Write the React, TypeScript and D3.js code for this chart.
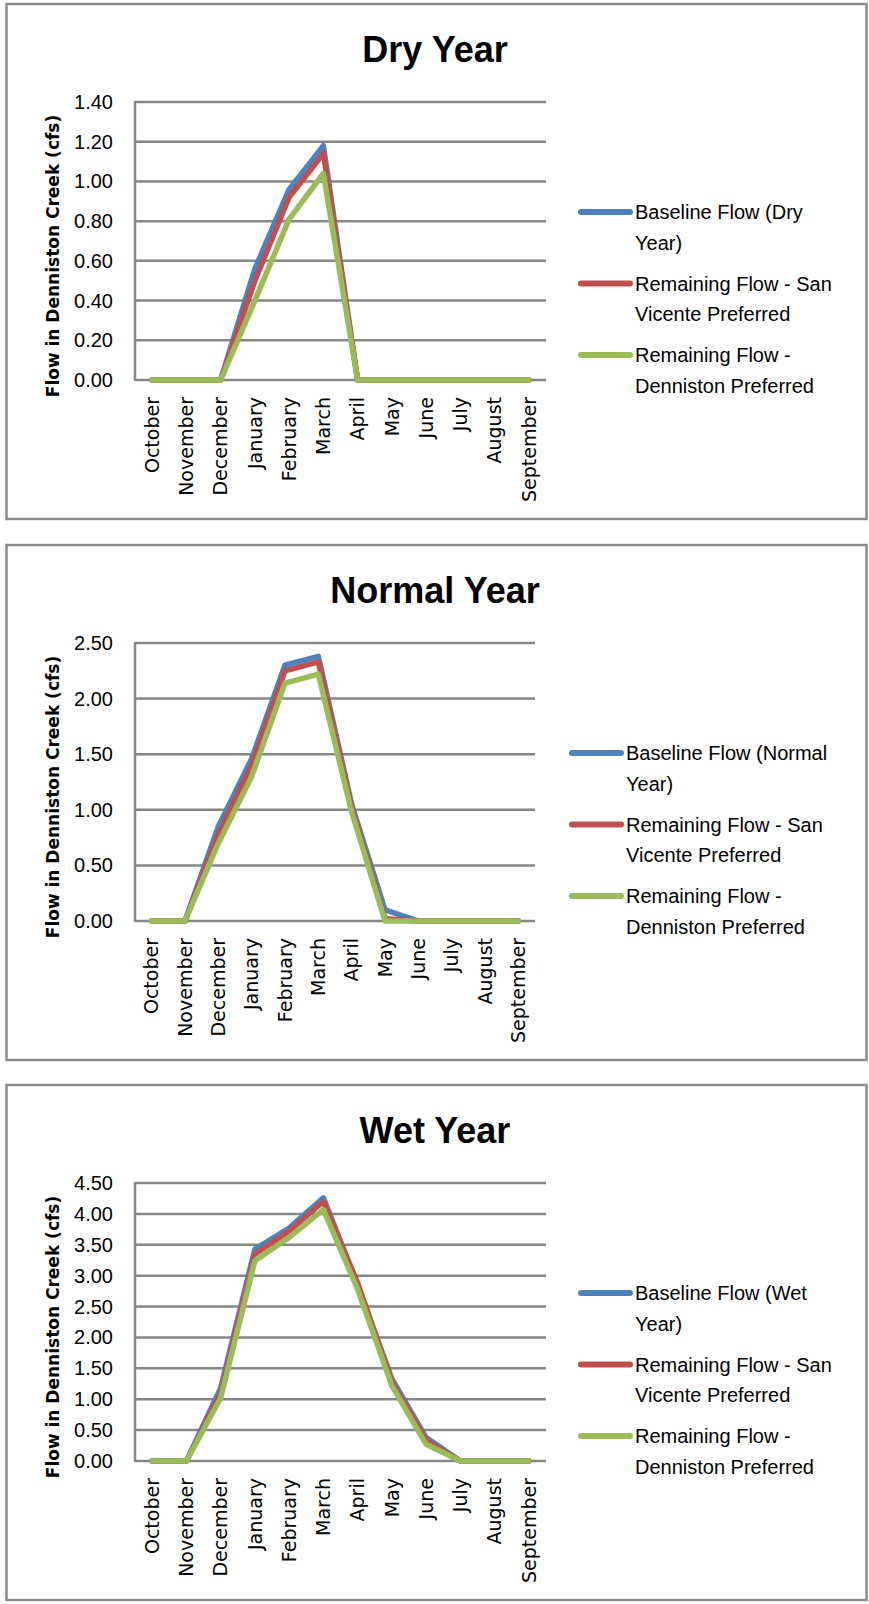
import * as d3 from "d3";

const months = [
  "October",
  "November",
  "December",
  "January",
  "February",
  "March",
  "April",
  "May",
  "June",
  "July",
  "August",
  "September",
];

// flow in cfs, one value per month
const dryBaseline = [0, 0, 0, 0.56, 0.96, 1.18, 0, 0, 0, 0, 0, 0];
const drySanVicente = [0, 0, 0, 0.5, 0.92, 1.14, 0, 0, 0, 0, 0, 0];
const dryDenniston = [0, 0, 0, 0.4, 0.81, 1.04, 0, 0, 0, 0, 0, 0];

const normalBaseline = [0, 0, 0.85, 1.46, 2.3, 2.38, 1.05, 0.1, 0, 0, 0, 0];
const normalSanVicente = [0, 0, 0.78, 1.4, 2.25, 2.33, 1.02, 0.02, 0, 0, 0, 0];
const normalDenniston = [0, 0, 0.7, 1.3, 2.14, 2.22, 0.98, 0, 0, 0, 0, 0];

const wetBaseline = [0, 0, 1.18, 3.43, 3.77, 4.26, 2.85, 1.33, 0.38, 0, 0, 0];
const wetSanVicente = [0, 0, 1.1, 3.35, 3.72, 4.2, 2.88, 1.28, 0.33, 0, 0, 0];
const wetDenniston = [0, 0, 1.02, 3.24, 3.62, 4.07, 2.78, 1.22, 0.27, 0, 0, 0];

const dryTicks = [0, 0.2, 0.4, 0.6, 0.8, 1.0, 1.2, 1.4];
const normalTicks = [0, 0.5, 1.0, 1.5, 2.0, 2.5];
const wetTicks = [0, 0.5, 1.0, 1.5, 2.0, 2.5, 3.0, 3.5, 4.0, 4.5];

const remainingSanVicente = ["Remaining Flow - San", "Vicente Preferred"];
const remainingDenniston = ["Remaining Flow -", "Denniston Preferred"];

const colors = ["#4F81BD", "#C0504D", "#9BBB59"];
const gridColor = "#868686";
const yTitle = "Flow in Denniston Creek (cfs)";

type PanelProps = {
  top: number;
  title: string;
  ticks: number[];
  series: number[][];
  legend: string[][];
  plotRight: number;
  legendX: number;
};

function Panel({ top, title, ticks, series, legend, plotRight, legendX }: PanelProps) {
  const left = 135;
  const plotTop = top + 98;
  const plotBottom = top + 376;

  const x = d3.scalePoint<string>().domain(months).range([left, plotRight]).padding(0.5);
  const y = d3
    .scaleLinear()
    .domain([0, d3.max(ticks) as number])
    .range([plotBottom, plotTop]);
  const line = d3
    .line<number>()
    .x((_, i) => x(months[i]) as number)
    .y((d) => y(d));
  const fmt = d3.format(".2f");

  return (
    <g>
      <rect x={6.5} y={top} width={860} height={515} fill="white" stroke="#8c8c8c" strokeWidth={2.5} />
      <text
        x={435}
        y={top + 58}
        textAnchor="middle"
        fontFamily="'Liberation Sans', Arial, sans-serif"
        fontWeight="bold"
        fontSize={36}
      >
        {title}
      </text>

      {/* gridlines */}
      {ticks.map((t) => (
        <line key={t} x1={left} x2={plotRight} y1={y(t)} y2={y(t)} stroke={gridColor} strokeWidth={2.5} />
      ))}
      <line x1={left} x2={left} y1={plotTop - 1} y2={plotBottom + 1} stroke={gridColor} strokeWidth={2.5} />

      {ticks.map((t) => (
        <text
          key={"l" + t}
          x={113}
          y={y(t)}
          dy="0.35em"
          textAnchor="end"
          fontFamily="'Liberation Sans', Arial, sans-serif"
          fontSize={20}
        >
          {fmt(t)}
        </text>
      ))}

      {months.map((m) => (
        <text
          key={m}
          transform={`translate(${x(m)},${plotBottom + 17}) rotate(-90)`}
          dy="0.35em"
          textAnchor="end"
          fontFamily="'DejaVu Sans', Verdana, sans-serif"
          fontSize={19}
        >
          {m}
        </text>
      ))}

      <text
        transform={`translate(53,${top + 252}) rotate(-90)`}
        dy="0.35em"
        textAnchor="middle"
        fontFamily="'DejaVu Sans', Verdana, sans-serif"
        fontWeight="bold"
        fontSize={17}
      >
        {yTitle}
      </text>

      {series.map((s, i) => (
        <path
          key={"s" + i}
          d={line(s) as string}
          fill="none"
          stroke={colors[i]}
          strokeWidth={5.5}
          strokeLinejoin="round"
          strokeLinecap="round"
        />
      ))}

      {legend.map((lines, i) => {
        const ly = top + 208 + i * 71.5;
        return (
          <g key={"lg" + i}>
            <line
              x1={legendX}
              x2={legendX + 49}
              y1={ly}
              y2={ly}
              stroke={colors[i]}
              strokeWidth={6}
              strokeLinecap="round"
            />
            {lines.map((txt, j) => (
              <text
                key={j}
                x={legendX + 54}
                y={ly + 7 + j * 30.5}
                fontFamily="'Liberation Sans', Arial, sans-serif"
                fontSize={20}
              >
                {txt}
              </text>
            ))}
          </g>
        );
      })}
    </g>
  );
}

export default function App() {
  return (
    <svg
      width={869}
      height={1604}
      style={{ position: "absolute", left: 0, top: 0, background: "white" }}
    >
      <Panel
        top={4}
        title="Dry Year"
        ticks={dryTicks}
        series={[dryBaseline, drySanVicente, dryDenniston]}
        legend={[["Baseline Flow (Dry", "Year)"], remainingSanVicente, remainingDenniston]}
        plotRight={546}
        legendX={581}
      />
      <Panel
        top={545}
        title="Normal Year"
        ticks={normalTicks}
        series={[normalBaseline, normalSanVicente, normalDenniston]}
        legend={[["Baseline Flow (Normal", "Year)"], remainingSanVicente, remainingDenniston]}
        plotRight={535}
        legendX={572}
      />
      <Panel
        top={1085}
        title="Wet Year"
        ticks={wetTicks}
        series={[wetBaseline, wetSanVicente, wetDenniston]}
        legend={[["Baseline Flow (Wet", "Year)"], remainingSanVicente, remainingDenniston]}
        plotRight={546}
        legendX={581}
      />
    </svg>
  );
}
